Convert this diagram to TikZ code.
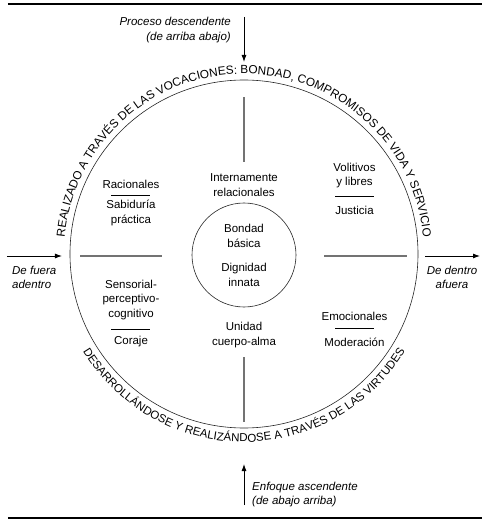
\documentclass[tikz,border=0pt]{standalone}
\usepackage{fontspec}
\setmainfont{Liberation Sans}
\usepackage{tikz}
\usetikzlibrary{arrows.meta,positioning,decorations.text}
\newcommand{\ringfont}{\fontsize{11.5}{14}\selectfont}
\newcommand{\ringfonttop}{\fontsize{11.8}{14}\selectfont}

\begin{document}
\begin{tikzpicture}[
    x=1pt, y=1pt,
    >={Latex[length=7pt,width=5pt]},
    txt/.style={align=center, inner sep=0pt, font=\fontsize{11.5}{14.5}\selectfont},
    cue/.style={inner sep=0pt, font=\fontsize{11.5}{14.5}\selectfont\itshape},
    ring/.style={draw=black!85, line width=0.6pt, circle, inner sep=0pt},
    crossbar/.style={draw=black!55, line width=2pt},
    seprule/.style={draw, line width=0.8pt},
    flow/.style={->, line width=0.9pt},
    pagerule/.style={draw, line width=1.2pt}
]
\useasboundingbox (-244,-266) rectangle (244,256);
\draw[pagerule] (-236,252) -- (238,252);
\draw[pagerule] (-236,-262) -- (238,-262);
\node[ring, minimum size=348pt] (outer) at (0,2) {};
\node[ring, minimum size=104pt] (core) at (0,1) {};
\path[decorate, decoration={text along path, text align=center,
    text={|\ringfonttop|REALIZADO A TRAVÉS DE LAS VOCACIONES: BONDAD, COMPROMISOS DE VIDA Y SERVICIO}}]
    (-180,2) arc[start angle=180, end angle=0, radius=180];
\path[decorate, decoration={text along path, text align=center,
    text={|\ringfont|DESARROLLÁNDOSE Y REALIZÁNDOSE A TRAVÉS DE LAS VIRTUDES}}]
    (-188,2) arc[start angle=180, end angle=360, radius=188];
\foreach \a/\ri/\ro in {0/80/163, 90/94/159, 180/82/164, 270/101/166}
    \draw[crossbar] (\a:\ri) -- (\a:\ro);
\node[txt] (inner) at (0,71) {Internamente\\relacionales};
\node[txt] (unity) at (0,-79) {Unidad\\cuerpo-alma};
\node[txt] (basic) at (0,20) {Bondad\\básica};
\node[txt] (dignity) at (0,-19) {Dignidad\\innata};
\node[txt] (rational) at (-113,71.3) {Racionales};
\node[txt] (wisdom) at (-113,43) {Sabiduría\\práctica};
\node[txt] (volitive) at (110.5,80.7) {Volitivos\\y libres};
\node[txt] (justice) at (110.5,46) {Justicia};
\node[txt] (sensory) at (-113,-44) {Sensorial-\\perceptivo-\\cognitivo};
\node[txt] (courage) at (-113,-86) {Coraje};
\node[txt] (emotional) at (110.5,-60) {Emocionales};
\node[txt] (temper) at (110.5,-86) {Moderación};
\foreach \x/\y in {-113/60.7, 110.7/60, -113/-73.3, 110.7/-72.3}
    \draw[seprule] (\x-19.5,\y) -- (\x+19.5,\y);
\coordinate (downtail) at (0,239);
\coordinate (downtip) at (0,194);
\coordinate (uptail) at (0,-249);
\coordinate (uptip) at (0,-208);
\coordinate (intail) at (-237,0);
\coordinate (intip) at (-182,0);
\coordinate (outtail) at (181,0);
\coordinate (outtip) at (236,0);
\draw[flow] (downtail) -- (downtip);
\draw[flow] (uptail) -- (uptip);
\draw[flow] (intail) -- (intip);
\draw[flow] (outtail) -- (outtip);
\node[cue, align=right, anchor=east] (descend) at (-13,226) {Proceso descendente\\(de arriba abajo)};
\node[cue, align=left, anchor=west] (ascend) at (8,-238.5) {Enfoque ascendente\\(de abajo arriba)};
\node[cue, align=left, anchor=west] (fromout) at (-232,-21.5) {De fuera\\adentro};
\node[cue, align=center] (fromin) at (208,-21.5) {De dentro\\afuera};
\end{tikzpicture}
\end{document}
